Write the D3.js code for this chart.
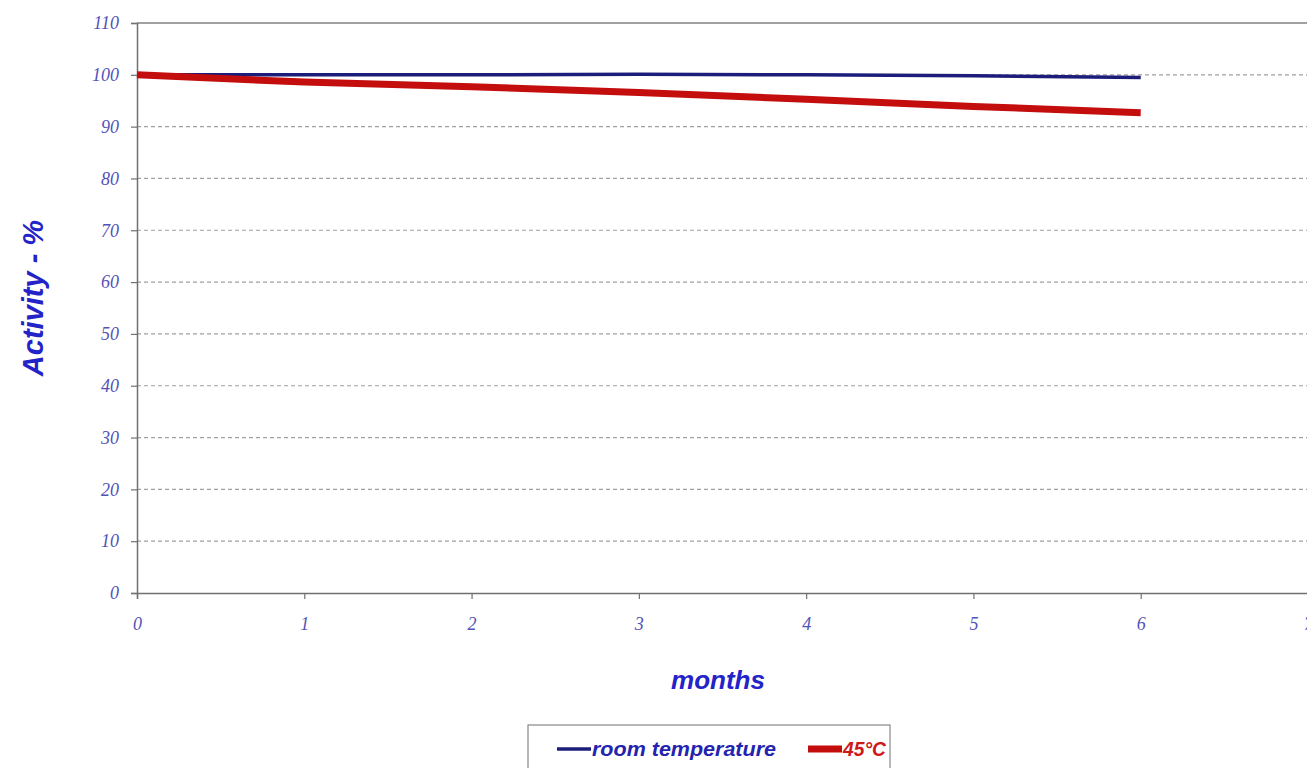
<!DOCTYPE html>
<html>
<head>
<meta charset="utf-8">
<script src="https://cdn.jsdelivr.net/npm/d3@7"></script>
<style>
  body { margin: 0; background: #fff; }
  svg { display: block; }
</style>
</head>
<body>
<div id="grafica"></div>
<script>
// data
months = [0, 1, 2, 3, 4, 5, 6]
roomTemp = [100, 100, 100, 100.1, 100, 99.8, 99.5]
hot45 = [100, 98.6, 97.7, 96.6, 95.3, 93.9, 92.7]
yTicks = [0, 10, 20, 30, 40, 50, 60, 70, 80, 90, 100, 110]
xTicks = [0, 1, 2, 3, 4, 5, 6, 7]
seriesNames = ['room temperature', '45°C']

ancho_total = 1307
alto_total = 768
margin = { left: 137, right: -1, top: 23, bottom: 175 }
ancho = ancho_total - margin.left - margin.right
alto = alto_total - margin.top - margin.bottom

svg = d3.select('#grafica')
  .append('svg')
  .attr('width', ancho_total)
  .attr('height', alto_total)

g = svg.append('g')
  .attr('transform', 'translate(' + margin.left + ',' + margin.top + ')')

x = d3.scaleLinear().domain([0, 7]).range([0, ancho])
y = d3.scaleLinear().domain([0, 110]).range([alto, 0])

tickColor = '#5252b8'
titleColor = '#2323c8'

// dashed gridlines
g.selectAll('.grid')
  .data(yTicks.filter((d) => d > 0 && d < 110))
  .enter()
  .append('line')
    .attr('x1', 0)
    .attr('x2', ancho)
    .attr('y1', (d) => y(d))
    .attr('y2', (d) => y(d))
    .attr('stroke', '#a0a0a0')
    .attr('stroke-width', 1.2)
    .attr('stroke-dasharray', '4,3')

// plot frame: top and right
g.append('line')
  .attr('x1', 0).attr('x2', ancho)
  .attr('y1', y(110)).attr('y2', y(110))
  .attr('stroke', '#808080').attr('stroke-width', 1.5)
g.append('line')
  .attr('x1', x(7)).attr('x2', x(7))
  .attr('y1', y(110)).attr('y2', y(0))
  .attr('stroke', '#808080').attr('stroke-width', 1.5)

// axes
yAxisCall = d3.axisLeft(y).tickValues(yTicks).tickSize(6).tickPadding(12)
yGroup = g.append('g').call(yAxisCall)

xAxisCall = d3.axisBottom(x).tickValues(xTicks).tickFormat(d3.format('d')).tickSize(6).tickPadding(18)
xGroup = g.append('g')
  .attr('transform', `translate(0, ${alto})`)
  .call(xAxisCall)

;[xGroup, yGroup].forEach((grp) => {
  grp.select('.domain').attr('stroke', '#707070').attr('stroke-width', 1.5)
  grp.selectAll('.tick line').attr('stroke', '#707070').attr('stroke-width', 1.2)
  grp.selectAll('.tick text')
    .attr('fill', tickColor)
    .attr('font-family', 'Liberation Serif, Times New Roman, serif')
    .attr('font-style', 'italic')
    .attr('font-size', '18px')
})

// lines
linea = d3.line()
  .x((d, i) => x(months[i]))
  .y((d) => y(d))

g.append('path')
  .datum(roomTemp)
  .attr('d', linea)
  .attr('fill', 'none')
  .attr('stroke', '#1c1c7a')
  .attr('stroke-width', 3.5)

g.append('path')
  .datum(hot45)
  .attr('d', linea)
  .attr('fill', 'none')
  .attr('stroke', '#c40d0d')
  .attr('stroke-width', 7)
  .attr('stroke-linejoin', 'round')

// axis titles
svg.append('text')
  .attr('transform', 'translate(43,' + 298 + ') rotate(-90)')
  .attr('text-anchor', 'middle')
  .attr('font-family', 'Liberation Sans, Arial, sans-serif')
  .attr('font-style', 'italic')
  .attr('font-weight', 'bold')
  .attr('font-size', '29px')
  .attr('fill', titleColor)
  .text('Activity - %')

svg.append('text')
  .attr('x', 718)
  .attr('y', 689)
  .attr('text-anchor', 'middle')
  .attr('font-family', 'Liberation Sans, Arial, sans-serif')
  .attr('font-style', 'italic')
  .attr('font-weight', 'bold')
  .attr('font-size', '26px')
  .attr('fill', titleColor)
  .text('months')

// legend
leg = svg.append('g').attr('transform', 'translate(528,725)')
leg.append('rect')
  .attr('x', 0).attr('y', 0)
  .attr('width', 362).attr('height', 60)
  .attr('fill', '#fff')
  .attr('stroke', '#888').attr('stroke-width', 1.2)

legColors = ['#1c1c7a', '#c40d0d']
legText = ['#2323b0', '#d01818']
legWidths = [3.5, 7]
legX = [29, 280]
legLen = [184, 43]
seriesNames.forEach((name, i) => {
  leg.append('line')
    .attr('x1', legX[i]).attr('x2', legX[i] + 34)
    .attr('y1', 24).attr('y2', 24)
    .attr('stroke', legColors[i])
    .attr('stroke-width', legWidths[i])
  leg.append('text')
    .attr('x', legX[i] + 35)
    .attr('y', 31)
    .attr('font-family', 'Liberation Sans, Arial, sans-serif')
    .attr('font-style', 'italic')
    .attr('font-weight', 'bold')
    .attr('font-size', '21px')
    .attr('textLength', legLen[i])
    .attr('lengthAdjust', 'spacingAndGlyphs')
    .attr('fill', legText[i])
    .text(name)
})
</script>
</body>
</html>
